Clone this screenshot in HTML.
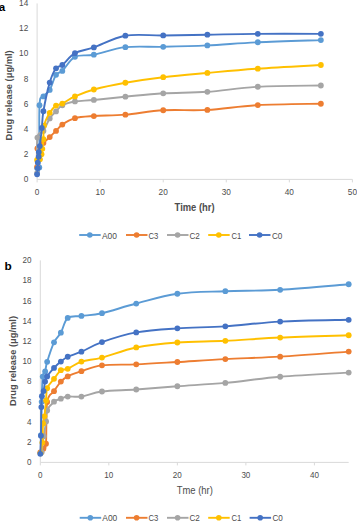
<!DOCTYPE html>
<html><head><meta charset="utf-8"><style>
html,body{margin:0;padding:0;background:#fff;width:357px;height:521px;overflow:hidden}
svg{display:block;font-family:"Liberation Sans",sans-serif}
</style></head><body>
<svg width="357" height="521" viewBox="0 0 357 521">
<line x1="37.10" y1="3.42" x2="37.10" y2="179.40" stroke="#D9D9D9" stroke-width="1"/>
<line x1="37.10" y1="179.40" x2="352.40" y2="179.40" stroke="#D9D9D9" stroke-width="1"/>
<line x1="37.10" y1="179.40" x2="37.10" y2="182.40" stroke="#D9D9D9" stroke-width="1"/>
<text x="37.10" y="195.20" font-size="9.60" font-weight="normal" text-anchor="middle" fill="#4d4d4d" textLength="4.60" lengthAdjust="spacingAndGlyphs">0</text>
<line x1="100.16" y1="179.40" x2="100.16" y2="182.40" stroke="#D9D9D9" stroke-width="1"/>
<text x="100.16" y="195.20" font-size="9.60" font-weight="normal" text-anchor="middle" fill="#4d4d4d" textLength="9.20" lengthAdjust="spacingAndGlyphs">10</text>
<line x1="163.22" y1="179.40" x2="163.22" y2="182.40" stroke="#D9D9D9" stroke-width="1"/>
<text x="163.22" y="195.20" font-size="9.60" font-weight="normal" text-anchor="middle" fill="#4d4d4d" textLength="9.20" lengthAdjust="spacingAndGlyphs">20</text>
<line x1="226.28" y1="179.40" x2="226.28" y2="182.40" stroke="#D9D9D9" stroke-width="1"/>
<text x="226.28" y="195.20" font-size="9.60" font-weight="normal" text-anchor="middle" fill="#4d4d4d" textLength="9.20" lengthAdjust="spacingAndGlyphs">30</text>
<line x1="289.34" y1="179.40" x2="289.34" y2="182.40" stroke="#D9D9D9" stroke-width="1"/>
<text x="289.34" y="195.20" font-size="9.60" font-weight="normal" text-anchor="middle" fill="#4d4d4d" textLength="9.20" lengthAdjust="spacingAndGlyphs">40</text>
<line x1="352.40" y1="179.40" x2="352.40" y2="182.40" stroke="#D9D9D9" stroke-width="1"/>
<text x="352.40" y="195.20" font-size="9.60" font-weight="normal" text-anchor="middle" fill="#4d4d4d" textLength="9.20" lengthAdjust="spacingAndGlyphs">50</text>
<text x="28.30" y="182.14" font-size="9.80" font-weight="normal" text-anchor="end" fill="#4d4d4d" textLength="4.60" lengthAdjust="spacingAndGlyphs">0</text>
<text x="28.30" y="157.00" font-size="9.80" font-weight="normal" text-anchor="end" fill="#4d4d4d" textLength="4.60" lengthAdjust="spacingAndGlyphs">2</text>
<text x="28.30" y="131.86" font-size="9.80" font-weight="normal" text-anchor="end" fill="#4d4d4d" textLength="4.60" lengthAdjust="spacingAndGlyphs">4</text>
<text x="28.30" y="106.72" font-size="9.80" font-weight="normal" text-anchor="end" fill="#4d4d4d" textLength="4.60" lengthAdjust="spacingAndGlyphs">6</text>
<text x="28.30" y="81.58" font-size="9.80" font-weight="normal" text-anchor="end" fill="#4d4d4d" textLength="4.60" lengthAdjust="spacingAndGlyphs">8</text>
<text x="28.30" y="56.44" font-size="9.80" font-weight="normal" text-anchor="end" fill="#4d4d4d" textLength="9.20" lengthAdjust="spacingAndGlyphs">10</text>
<text x="28.30" y="31.30" font-size="9.80" font-weight="normal" text-anchor="end" fill="#4d4d4d" textLength="9.20" lengthAdjust="spacingAndGlyphs">12</text>
<text x="28.30" y="6.16" font-size="9.80" font-weight="normal" text-anchor="end" fill="#4d4d4d" textLength="9.20" lengthAdjust="spacingAndGlyphs">14</text>
<text x="174.60" y="210.80" font-size="11.00" font-weight="bold" text-anchor="start" fill="#4d4d4d" textLength="40.00" lengthAdjust="spacingAndGlyphs">Time (hr)</text>
<text transform="translate(12.0,95.4) rotate(-90)" x="0" y="0" font-size="9.6" font-weight="bold" fill="#4d4d4d" text-anchor="middle" textLength="90.2" lengthAdjust="spacingAndGlyphs">Drug release (μg/ml)</text>
<text x="5.20" y="11.40" font-size="11.60" font-weight="bold" text-anchor="end" fill="#000">a</text>
<path d="M37.10,168.09 C37.47,167.98 38.91,177.93 39.31,167.46 C39.71,156.98 38.81,117.07 39.50,105.24 C40.18,93.40 41.70,98.99 43.41,96.44 C45.11,93.88 47.61,93.50 49.71,89.90 C51.81,86.30 53.92,77.98 56.02,74.82 C58.12,71.65 59.17,73.92 62.32,70.92 C65.48,67.93 69.68,59.55 74.94,56.84 C80.19,54.14 85.45,56.32 93.85,54.71 C102.26,53.09 113.82,48.48 125.38,47.16 C136.95,45.84 149.56,47.08 163.22,46.79 C176.88,46.49 191.60,46.16 207.36,45.40 C223.13,44.65 238.89,43.14 257.81,42.26 C276.73,41.38 310.36,40.48 320.87,40.12" fill="none" stroke="#5B9BD5" stroke-width="1.90"/>
<g fill="#5B9BD5"><circle cx="37.10" cy="168.09" r="2.90"/><circle cx="39.31" cy="167.46" r="2.90"/><circle cx="39.50" cy="105.24" r="2.90"/><circle cx="43.41" cy="96.44" r="2.90"/><circle cx="49.71" cy="89.90" r="2.90"/><circle cx="56.02" cy="74.82" r="2.90"/><circle cx="62.32" cy="70.92" r="2.90"/><circle cx="74.94" cy="56.84" r="2.90"/><circle cx="93.85" cy="54.71" r="2.90"/><circle cx="125.38" cy="47.16" r="2.90"/><circle cx="163.22" cy="46.79" r="2.90"/><circle cx="207.36" cy="45.40" r="2.90"/><circle cx="257.81" cy="42.26" r="2.90"/><circle cx="320.87" cy="40.12" r="2.90"/></g>
<path d="M37.10,166.83 C37.15,163.77 36.36,152.46 37.42,148.48 C38.47,144.50 41.36,144.85 43.41,142.95 C45.46,141.04 47.61,139.05 49.71,137.04 C51.81,135.03 53.92,132.95 56.02,130.88 C58.12,128.81 59.17,126.71 62.32,124.59 C65.48,122.48 69.68,119.61 74.94,118.18 C80.19,116.76 85.45,116.63 93.85,116.05 C102.26,115.46 113.82,115.63 125.38,114.66 C136.95,113.70 149.56,111.06 163.22,110.27 C176.88,109.47 191.60,110.75 207.36,109.89 C223.13,109.03 238.89,106.14 257.81,105.11 C276.73,104.08 310.36,103.96 320.87,103.73" fill="none" stroke="#ED7D31" stroke-width="1.90"/>
<g fill="#ED7D31"><circle cx="37.10" cy="166.83" r="2.90"/><circle cx="37.42" cy="148.48" r="2.90"/><circle cx="43.41" cy="142.95" r="2.90"/><circle cx="49.71" cy="137.04" r="2.90"/><circle cx="56.02" cy="130.88" r="2.90"/><circle cx="62.32" cy="124.59" r="2.90"/><circle cx="74.94" cy="118.18" r="2.90"/><circle cx="93.85" cy="116.05" r="2.90"/><circle cx="125.38" cy="114.66" r="2.90"/><circle cx="163.22" cy="110.27" r="2.90"/><circle cx="207.36" cy="109.89" r="2.90"/><circle cx="257.81" cy="105.11" r="2.90"/><circle cx="320.87" cy="103.73" r="2.90"/></g>
<path d="M37.10,173.12 C37.15,167.19 36.36,144.58 37.42,137.54 C38.47,130.50 41.36,134.06 43.41,130.88 C45.46,127.70 47.61,121.68 49.71,118.44 C51.81,115.19 53.92,113.60 56.02,111.40 C58.12,109.20 59.17,106.89 62.32,105.24 C65.48,103.58 69.68,102.35 74.94,101.47 C80.19,100.59 85.45,100.75 93.85,99.96 C102.26,99.16 113.82,97.80 125.38,96.69 C136.95,95.58 149.56,94.11 163.22,93.30 C176.88,92.48 191.60,92.88 207.36,91.79 C223.13,90.70 238.89,87.81 257.81,86.76 C276.73,85.71 310.36,85.71 320.87,85.50" fill="none" stroke="#A5A5A5" stroke-width="1.90"/>
<g fill="#A5A5A5"><circle cx="37.10" cy="173.12" r="2.90"/><circle cx="37.42" cy="137.54" r="2.90"/><circle cx="43.41" cy="130.88" r="2.90"/><circle cx="49.71" cy="118.44" r="2.90"/><circle cx="56.02" cy="111.40" r="2.90"/><circle cx="62.32" cy="105.24" r="2.90"/><circle cx="74.94" cy="101.47" r="2.90"/><circle cx="93.85" cy="99.96" r="2.90"/><circle cx="125.38" cy="96.69" r="2.90"/><circle cx="163.22" cy="93.30" r="2.90"/><circle cx="207.36" cy="91.79" r="2.90"/><circle cx="257.81" cy="86.76" r="2.90"/><circle cx="320.87" cy="85.50" r="2.90"/></g>
<path d="M37.10,159.92 C37.57,159.81 39.20,160.23 39.94,159.29 C40.67,158.35 41.11,156.00 41.51,154.26 C41.91,152.52 42.02,151.37 42.33,148.85 C42.65,146.34 43.12,143.05 43.41,139.18 C43.69,135.30 42.99,130.00 44.04,125.60 C45.09,121.20 47.72,116.11 49.71,112.78 C51.71,109.45 53.92,107.14 56.02,105.61 C58.12,104.08 59.17,105.13 62.32,103.60 C65.48,102.07 69.68,98.78 74.94,96.44 C80.19,94.09 85.45,91.81 93.85,89.52 C102.26,87.24 113.82,84.79 125.38,82.74 C136.95,80.68 149.56,78.84 163.22,77.21 C176.88,75.57 191.60,74.36 207.36,72.93 C223.13,71.51 238.89,69.98 257.81,68.66 C276.73,67.34 310.36,65.62 320.87,65.01" fill="none" stroke="#FFC000" stroke-width="1.90"/>
<g fill="#FFC000"><circle cx="37.10" cy="159.92" r="2.90"/><circle cx="39.94" cy="159.29" r="2.90"/><circle cx="41.51" cy="154.26" r="2.90"/><circle cx="42.33" cy="148.85" r="2.90"/><circle cx="43.41" cy="139.18" r="2.90"/><circle cx="44.04" cy="125.60" r="2.90"/><circle cx="49.71" cy="112.78" r="2.90"/><circle cx="56.02" cy="105.61" r="2.90"/><circle cx="62.32" cy="103.60" r="2.90"/><circle cx="74.94" cy="96.44" r="2.90"/><circle cx="93.85" cy="89.52" r="2.90"/><circle cx="125.38" cy="82.74" r="2.90"/><circle cx="163.22" cy="77.21" r="2.90"/><circle cx="207.36" cy="72.93" r="2.90"/><circle cx="257.81" cy="68.66" r="2.90"/><circle cx="320.87" cy="65.01" r="2.90"/></g>
<path d="M37.10,174.37 C37.21,173.32 37.61,170.06 37.73,168.09 C37.85,166.12 37.64,164.44 37.79,162.56 C37.95,160.67 38.51,158.51 38.68,156.77 C38.84,155.04 38.61,153.90 38.80,152.12 C38.99,150.34 39.31,150.11 39.81,146.09 C40.32,142.07 41.23,133.79 41.83,127.99 C42.43,122.19 42.09,118.83 43.41,111.27 C44.72,103.71 47.61,89.78 49.71,82.61 C51.81,75.45 53.92,71.21 56.02,68.28 C58.12,65.35 59.17,67.53 62.32,65.01 C65.48,62.50 69.68,56.13 74.94,53.20 C80.19,50.26 85.45,50.33 93.85,47.41 C102.26,44.50 113.82,37.72 125.38,35.72 C136.95,33.73 149.56,35.64 163.22,35.47 C176.88,35.31 191.60,34.99 207.36,34.72 C223.13,34.45 238.89,33.99 257.81,33.84 C276.73,33.69 310.36,33.84 320.87,33.84" fill="none" stroke="#4472C4" stroke-width="1.90"/>
<g fill="#4472C4"><circle cx="37.10" cy="174.37" r="2.90"/><circle cx="37.73" cy="168.09" r="2.90"/><circle cx="37.79" cy="162.56" r="2.90"/><circle cx="38.68" cy="156.77" r="2.90"/><circle cx="38.80" cy="152.12" r="2.90"/><circle cx="39.81" cy="146.09" r="2.90"/><circle cx="41.83" cy="127.99" r="2.90"/><circle cx="43.41" cy="111.27" r="2.90"/><circle cx="49.71" cy="82.61" r="2.90"/><circle cx="56.02" cy="68.28" r="2.90"/><circle cx="62.32" cy="65.01" r="2.90"/><circle cx="74.94" cy="53.20" r="2.90"/><circle cx="93.85" cy="47.41" r="2.90"/><circle cx="125.38" cy="35.72" r="2.90"/><circle cx="163.22" cy="35.47" r="2.90"/><circle cx="207.36" cy="34.72" r="2.90"/><circle cx="257.81" cy="33.84" r="2.90"/><circle cx="320.87" cy="33.84" r="2.90"/></g>
<line x1="79.20" y1="235.00" x2="100.70" y2="235.00" stroke="#5B9BD5" stroke-width="1.90"/>
<circle cx="89.80" cy="235.00" r="2.80" fill="#5B9BD5"/>
<text x="102.00" y="238.53" font-size="9.80" font-weight="normal" text-anchor="start" fill="#4d4d4d" textLength="15.00" lengthAdjust="spacingAndGlyphs">A00</text>
<line x1="126.00" y1="235.00" x2="147.50" y2="235.00" stroke="#ED7D31" stroke-width="1.90"/>
<circle cx="136.60" cy="235.00" r="2.80" fill="#ED7D31"/>
<text x="148.40" y="238.53" font-size="9.80" font-weight="normal" text-anchor="start" fill="#4d4d4d" textLength="9.80" lengthAdjust="spacingAndGlyphs">C3</text>
<line x1="167.00" y1="235.00" x2="188.50" y2="235.00" stroke="#A5A5A5" stroke-width="1.90"/>
<circle cx="177.60" cy="235.00" r="2.80" fill="#A5A5A5"/>
<text x="189.40" y="238.53" font-size="9.80" font-weight="normal" text-anchor="start" fill="#4d4d4d" textLength="10.40" lengthAdjust="spacingAndGlyphs">C2</text>
<line x1="208.20" y1="235.00" x2="229.70" y2="235.00" stroke="#FFC000" stroke-width="1.90"/>
<circle cx="218.80" cy="235.00" r="2.80" fill="#FFC000"/>
<text x="231.40" y="238.53" font-size="9.80" font-weight="normal" text-anchor="start" fill="#4d4d4d" textLength="9.80" lengthAdjust="spacingAndGlyphs">C1</text>
<line x1="249.00" y1="235.00" x2="270.50" y2="235.00" stroke="#4472C4" stroke-width="1.90"/>
<circle cx="259.60" cy="235.00" r="2.80" fill="#4472C4"/>
<text x="272.00" y="238.53" font-size="9.80" font-weight="normal" text-anchor="start" fill="#4d4d4d" textLength="10.40" lengthAdjust="spacingAndGlyphs">C0</text>
<line x1="40.30" y1="260.40" x2="40.30" y2="462.40" stroke="#D9D9D9" stroke-width="1"/>
<line x1="40.30" y1="462.40" x2="348.69" y2="462.40" stroke="#D9D9D9" stroke-width="1"/>
<line x1="40.30" y1="462.40" x2="40.30" y2="465.40" stroke="#D9D9D9" stroke-width="1"/>
<text x="40.30" y="477.70" font-size="9.40" font-weight="normal" text-anchor="middle" fill="#4d4d4d" textLength="4.50" lengthAdjust="spacingAndGlyphs">0</text>
<line x1="108.83" y1="462.40" x2="108.83" y2="465.40" stroke="#D9D9D9" stroke-width="1"/>
<text x="108.83" y="477.70" font-size="9.40" font-weight="normal" text-anchor="middle" fill="#4d4d4d" textLength="9.00" lengthAdjust="spacingAndGlyphs">10</text>
<line x1="177.36" y1="462.40" x2="177.36" y2="465.40" stroke="#D9D9D9" stroke-width="1"/>
<text x="177.36" y="477.70" font-size="9.40" font-weight="normal" text-anchor="middle" fill="#4d4d4d" textLength="9.00" lengthAdjust="spacingAndGlyphs">20</text>
<line x1="245.89" y1="462.40" x2="245.89" y2="465.40" stroke="#D9D9D9" stroke-width="1"/>
<text x="245.89" y="477.70" font-size="9.40" font-weight="normal" text-anchor="middle" fill="#4d4d4d" textLength="9.00" lengthAdjust="spacingAndGlyphs">30</text>
<line x1="314.42" y1="462.40" x2="314.42" y2="465.40" stroke="#D9D9D9" stroke-width="1"/>
<text x="314.42" y="477.70" font-size="9.40" font-weight="normal" text-anchor="middle" fill="#4d4d4d" textLength="9.00" lengthAdjust="spacingAndGlyphs">40</text>
<text x="31.40" y="465.25" font-size="9.20" font-weight="normal" text-anchor="end" fill="#4d4d4d" textLength="4.50" lengthAdjust="spacingAndGlyphs">0</text>
<text x="31.40" y="445.05" font-size="9.20" font-weight="normal" text-anchor="end" fill="#4d4d4d" textLength="4.50" lengthAdjust="spacingAndGlyphs">2</text>
<text x="31.40" y="424.85" font-size="9.20" font-weight="normal" text-anchor="end" fill="#4d4d4d" textLength="4.50" lengthAdjust="spacingAndGlyphs">4</text>
<text x="31.40" y="404.65" font-size="9.20" font-weight="normal" text-anchor="end" fill="#4d4d4d" textLength="4.50" lengthAdjust="spacingAndGlyphs">6</text>
<text x="31.40" y="384.45" font-size="9.20" font-weight="normal" text-anchor="end" fill="#4d4d4d" textLength="4.50" lengthAdjust="spacingAndGlyphs">8</text>
<text x="31.40" y="364.25" font-size="9.20" font-weight="normal" text-anchor="end" fill="#4d4d4d" textLength="9.00" lengthAdjust="spacingAndGlyphs">10</text>
<text x="31.40" y="344.05" font-size="9.20" font-weight="normal" text-anchor="end" fill="#4d4d4d" textLength="9.00" lengthAdjust="spacingAndGlyphs">12</text>
<text x="31.40" y="323.85" font-size="9.20" font-weight="normal" text-anchor="end" fill="#4d4d4d" textLength="9.00" lengthAdjust="spacingAndGlyphs">14</text>
<text x="31.40" y="303.65" font-size="9.20" font-weight="normal" text-anchor="end" fill="#4d4d4d" textLength="9.00" lengthAdjust="spacingAndGlyphs">16</text>
<text x="31.40" y="283.45" font-size="9.20" font-weight="normal" text-anchor="end" fill="#4d4d4d" textLength="9.00" lengthAdjust="spacingAndGlyphs">18</text>
<text x="31.40" y="263.25" font-size="9.20" font-weight="normal" text-anchor="end" fill="#4d4d4d" textLength="9.00" lengthAdjust="spacingAndGlyphs">20</text>
<text x="176.70" y="493.50" font-size="10.00" font-weight="normal" text-anchor="start" fill="#4d4d4d" textLength="36.20" lengthAdjust="spacingAndGlyphs">Tme (hr)</text>
<text transform="translate(16.3,361.0) rotate(-90)" x="0" y="0" font-size="9.6" font-weight="bold" fill="#4d4d4d" text-anchor="middle" textLength="90.0" lengthAdjust="spacingAndGlyphs">Drug release (μg/ml)</text>
<text x="4.60" y="270.40" font-size="11.80" font-weight="bold" text-anchor="start" fill="#000">b</text>
<path d="M40.99,435.13 C41.10,429.57 41.39,411.56 41.67,401.80 C41.96,392.04 42.12,381.62 42.70,376.55 C43.28,371.48 44.42,373.86 45.17,371.40 C45.91,368.94 45.68,366.65 47.15,361.80 C48.63,356.96 51.72,347.16 54.01,342.31 C56.29,337.46 58.57,336.77 60.86,332.72 C63.14,328.66 64.29,320.76 67.71,317.97 C71.14,315.18 75.71,316.74 81.42,315.95 C87.13,315.16 92.84,315.29 101.98,313.22 C111.11,311.15 123.68,306.78 136.24,303.53 C148.81,300.28 162.51,295.78 177.36,293.73 C192.21,291.68 208.20,291.86 225.33,291.20 C242.46,290.55 259.60,290.95 280.15,289.79 C300.71,288.63 337.26,285.16 348.69,284.24" fill="none" stroke="#5B9BD5" stroke-width="1.90"/>
<g fill="#5B9BD5"><circle cx="40.99" cy="435.13" r="2.90"/><circle cx="41.67" cy="401.80" r="2.90"/><circle cx="42.70" cy="376.55" r="2.90"/><circle cx="45.17" cy="371.40" r="2.90"/><circle cx="47.15" cy="361.80" r="2.90"/><circle cx="54.01" cy="342.31" r="2.90"/><circle cx="60.86" cy="332.72" r="2.90"/><circle cx="67.71" cy="317.97" r="2.90"/><circle cx="81.42" cy="315.95" r="2.90"/><circle cx="101.98" cy="313.22" r="2.90"/><circle cx="136.24" cy="303.53" r="2.90"/><circle cx="177.36" cy="293.73" r="2.90"/><circle cx="225.33" cy="291.20" r="2.90"/><circle cx="280.15" cy="289.79" r="2.90"/><circle cx="348.69" cy="284.24" r="2.90"/></g>
<path d="M40.30,452.30 C40.81,451.71 42.44,450.20 43.38,448.76 C44.33,447.33 45.36,451.51 45.99,443.71 C46.62,435.92 45.82,410.76 47.15,402.00 C48.49,393.25 51.72,394.60 54.01,391.19 C56.29,387.79 58.57,384.06 60.86,381.60 C63.14,379.14 64.29,378.18 67.71,376.45 C71.14,374.72 75.71,373.05 81.42,371.20 C87.13,369.35 92.84,366.48 101.98,365.34 C111.11,364.19 123.68,364.88 136.24,364.33 C148.81,363.77 162.51,362.88 177.36,362.01 C192.21,361.13 208.20,359.97 225.33,359.08 C242.46,358.18 259.60,357.90 280.15,356.65 C300.71,355.41 337.26,352.44 348.69,351.60" fill="none" stroke="#ED7D31" stroke-width="1.90"/>
<g fill="#ED7D31"><circle cx="40.30" cy="452.30" r="2.90"/><circle cx="43.38" cy="448.76" r="2.90"/><circle cx="45.99" cy="443.71" r="2.90"/><circle cx="47.15" cy="402.00" r="2.90"/><circle cx="54.01" cy="391.19" r="2.90"/><circle cx="60.86" cy="381.60" r="2.90"/><circle cx="67.71" cy="376.45" r="2.90"/><circle cx="81.42" cy="371.20" r="2.90"/><circle cx="101.98" cy="365.34" r="2.90"/><circle cx="136.24" cy="364.33" r="2.90"/><circle cx="177.36" cy="362.01" r="2.90"/><circle cx="225.33" cy="359.08" r="2.90"/><circle cx="280.15" cy="356.65" r="2.90"/><circle cx="348.69" cy="351.60" r="2.90"/></g>
<path d="M41.67,452.30 C42.01,449.61 42.98,441.29 43.73,436.14 C44.47,430.99 45.55,425.67 46.13,421.39 C46.70,417.12 45.84,413.77 47.15,410.49 C48.47,407.20 51.72,403.67 54.01,401.70 C56.29,399.73 58.57,399.53 60.86,398.67 C63.14,397.81 64.29,396.90 67.71,396.55 C71.14,396.19 75.71,397.39 81.42,396.55 C87.13,395.71 92.84,392.68 101.98,391.50 C111.11,390.32 123.68,390.35 136.24,389.48 C148.81,388.60 162.51,387.34 177.36,386.25 C192.21,385.15 208.20,384.50 225.33,382.91 C242.46,381.33 259.60,378.47 280.15,376.75 C300.71,375.03 337.26,373.30 348.69,372.61" fill="none" stroke="#A5A5A5" stroke-width="1.90"/>
<g fill="#A5A5A5"><circle cx="41.67" cy="452.30" r="2.90"/><circle cx="43.73" cy="436.14" r="2.90"/><circle cx="46.13" cy="421.39" r="2.90"/><circle cx="47.15" cy="410.49" r="2.90"/><circle cx="54.01" cy="401.70" r="2.90"/><circle cx="60.86" cy="398.67" r="2.90"/><circle cx="67.71" cy="396.55" r="2.90"/><circle cx="81.42" cy="396.55" r="2.90"/><circle cx="101.98" cy="391.50" r="2.90"/><circle cx="136.24" cy="389.48" r="2.90"/><circle cx="177.36" cy="386.25" r="2.90"/><circle cx="225.33" cy="382.91" r="2.90"/><circle cx="280.15" cy="376.75" r="2.90"/><circle cx="348.69" cy="372.61" r="2.90"/></g>
<path d="M40.44,453.31 C40.76,451.53 41.92,447.57 42.36,442.60 C42.79,437.64 42.70,427.89 43.04,423.51 C43.38,419.14 43.90,420.20 44.41,416.34 C44.93,412.49 45.67,405.08 46.13,400.39 C46.58,395.69 45.84,391.75 47.15,388.16 C48.47,384.58 51.72,381.87 54.01,378.87 C56.29,375.88 58.57,371.85 60.86,370.19 C63.14,368.52 64.29,370.30 67.71,368.87 C71.14,367.44 75.71,363.49 81.42,361.60 C87.13,359.72 92.84,359.92 101.98,357.56 C111.11,355.21 123.68,349.97 136.24,347.46 C148.81,344.95 162.51,343.62 177.36,342.51 C192.21,341.40 208.20,341.62 225.33,340.80 C242.46,339.97 259.60,338.49 280.15,337.56 C300.71,336.64 337.26,335.63 348.69,335.24" fill="none" stroke="#FFC000" stroke-width="1.90"/>
<g fill="#FFC000"><circle cx="40.44" cy="453.31" r="2.90"/><circle cx="42.36" cy="442.60" r="2.90"/><circle cx="43.04" cy="423.51" r="2.90"/><circle cx="44.41" cy="416.34" r="2.90"/><circle cx="46.13" cy="400.39" r="2.90"/><circle cx="47.15" cy="388.16" r="2.90"/><circle cx="54.01" cy="378.87" r="2.90"/><circle cx="60.86" cy="370.19" r="2.90"/><circle cx="67.71" cy="368.87" r="2.90"/><circle cx="81.42" cy="361.60" r="2.90"/><circle cx="101.98" cy="357.56" r="2.90"/><circle cx="136.24" cy="347.46" r="2.90"/><circle cx="177.36" cy="342.51" r="2.90"/><circle cx="225.33" cy="340.80" r="2.90"/><circle cx="280.15" cy="337.56" r="2.90"/><circle cx="348.69" cy="335.24" r="2.90"/></g>
<path d="M40.30,453.81 C40.41,450.78 40.81,443.43 40.99,435.63 C41.16,427.84 41.18,413.62 41.33,407.05 C41.48,400.49 41.50,398.90 41.88,396.25 C42.25,393.59 43.05,393.53 43.59,391.09 C44.13,388.65 44.50,384.04 45.10,381.60 C45.69,379.16 45.67,378.72 47.15,376.45 C48.64,374.18 51.72,370.44 54.01,367.96 C56.29,365.49 58.57,363.47 60.86,361.60 C63.14,359.73 64.29,358.40 67.71,356.75 C71.14,355.10 75.71,354.14 81.42,351.70 C87.13,349.26 92.84,345.32 101.98,342.11 C111.11,338.89 123.68,334.70 136.24,332.41 C148.81,330.12 162.51,329.38 177.36,328.37 C192.21,327.36 208.20,327.48 225.33,326.35 C242.46,325.23 259.60,322.70 280.15,321.61 C300.71,320.51 337.26,320.09 348.69,319.79" fill="none" stroke="#4472C4" stroke-width="1.90"/>
<g fill="#4472C4"><circle cx="40.30" cy="453.81" r="2.90"/><circle cx="40.99" cy="435.63" r="2.90"/><circle cx="41.33" cy="407.05" r="2.90"/><circle cx="41.88" cy="396.25" r="2.90"/><circle cx="43.59" cy="391.09" r="2.90"/><circle cx="45.10" cy="381.60" r="2.90"/><circle cx="47.15" cy="376.45" r="2.90"/><circle cx="54.01" cy="367.96" r="2.90"/><circle cx="60.86" cy="361.60" r="2.90"/><circle cx="67.71" cy="356.75" r="2.90"/><circle cx="81.42" cy="351.70" r="2.90"/><circle cx="101.98" cy="342.11" r="2.90"/><circle cx="136.24" cy="332.41" r="2.90"/><circle cx="177.36" cy="328.37" r="2.90"/><circle cx="225.33" cy="326.35" r="2.90"/><circle cx="280.15" cy="321.61" r="2.90"/><circle cx="348.69" cy="319.79" r="2.90"/></g>
<line x1="79.70" y1="517.80" x2="101.20" y2="517.80" stroke="#5B9BD5" stroke-width="1.90"/>
<circle cx="90.30" cy="517.80" r="2.80" fill="#5B9BD5"/>
<text x="102.30" y="521.33" font-size="9.80" font-weight="normal" text-anchor="start" fill="#4d4d4d" textLength="15.00" lengthAdjust="spacingAndGlyphs">A00</text>
<line x1="126.00" y1="517.80" x2="147.50" y2="517.80" stroke="#ED7D31" stroke-width="1.90"/>
<circle cx="136.60" cy="517.80" r="2.80" fill="#ED7D31"/>
<text x="148.40" y="521.33" font-size="9.80" font-weight="normal" text-anchor="start" fill="#4d4d4d" textLength="9.80" lengthAdjust="spacingAndGlyphs">C3</text>
<line x1="167.00" y1="517.80" x2="188.50" y2="517.80" stroke="#A5A5A5" stroke-width="1.90"/>
<circle cx="177.60" cy="517.80" r="2.80" fill="#A5A5A5"/>
<text x="189.40" y="521.33" font-size="9.80" font-weight="normal" text-anchor="start" fill="#4d4d4d" textLength="10.40" lengthAdjust="spacingAndGlyphs">C2</text>
<line x1="208.20" y1="517.80" x2="229.70" y2="517.80" stroke="#FFC000" stroke-width="1.90"/>
<circle cx="218.80" cy="517.80" r="2.80" fill="#FFC000"/>
<text x="231.40" y="521.33" font-size="9.80" font-weight="normal" text-anchor="start" fill="#4d4d4d" textLength="9.80" lengthAdjust="spacingAndGlyphs">C1</text>
<line x1="249.60" y1="517.80" x2="271.10" y2="517.80" stroke="#4472C4" stroke-width="1.90"/>
<circle cx="260.20" cy="517.80" r="2.80" fill="#4472C4"/>
<text x="272.50" y="521.33" font-size="9.80" font-weight="normal" text-anchor="start" fill="#4d4d4d" textLength="10.40" lengthAdjust="spacingAndGlyphs">C0</text>
</svg>
</body></html>
